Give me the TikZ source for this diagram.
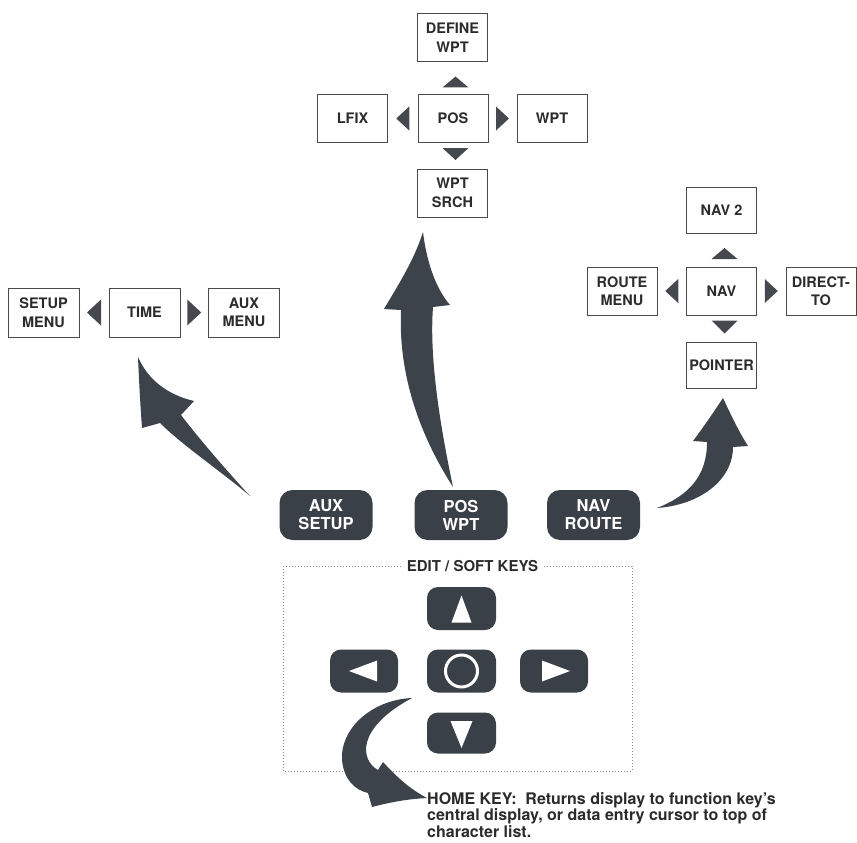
\documentclass[tikz,border=0pt]{standalone}
\usepackage{fontspec}
\setmainfont{TeX Gyre Heros}
\usetikzlibrary{calc}
\definecolor{keyc}{HTML}{3A4048}
\definecolor{arrc}{HTML}{3D434B}
\definecolor{boxc}{HTML}{4A4A4A}
\definecolor{txtc}{HTML}{2B2B2B}
\definecolor{tric}{HTML}{45494F}
\definecolor{framec}{HTML}{8A8A8A}
\tikzset{
  box/.style={draw=boxc, line width=1pt, minimum width=70pt, minimum height=48pt, inner sep=0pt,
    align=center, text=txtc, font=\fontsize{14.5}{18.5}\selectfont\bfseries},
  key/.style={fill=keyc, rounded corners=13pt, minimum width=93pt, minimum height=50pt, inner sep=0pt,
    text=white, align=center, font=\fontsize{16.5}{18}\selectfont\bfseries},
  skey/.style={fill=keyc, rounded corners=11pt, minimum width=68pt, minimum height=42pt, inner sep=0pt},
  tri/.style={fill=tric},
  wtri/.style={fill=white},
  bigarrow/.style={fill=arrc},
  frame/.style={draw=framec, line width=1pt, dotted},
}
\begin{document}
\begin{tikzpicture}[x=1pt,y=-1pt]
\useasboundingbox (0,0) rectangle (857,843);

% ---- POS cluster
\node[box] (define) at (452.5,37.5) {DEFINE\\WPT};
\node[box] (pos) at (453,118.5) {POS};
\node[box] (lfix) at (352.5,118.5) {LFIX};
\node[box] (wpt) at (552,118.5) {WPT};
\node[box] (srch) at (452.5,193) {WPT\\SRCH};
\fill[tri] (455.5,82.5) ++(-13,5) -- ++(26,0) -- ++(-13,-11) -- cycle;
\fill[tri] (455.5,154) ++(-13,-6) -- ++(26,0) -- ++(-13,12) -- cycle;
\fill[tri] ($(lfix.east)!.5!(pos.west)$) ++(6.5,-12) -- ++(0,24) -- ++(-13,-12) -- cycle;
\fill[tri] ($(pos.east)!.5!(wpt.west)$) ++(-6.5,-12) -- ++(0,24) -- ++(13,-12) -- cycle;

% ---- NAV cluster
\node[box, minimum height=46pt] (nav2) at (721.5,210) {NAV 2};
\node[box] (nav) at (721.5,291) {NAV};
\node[box] (route) at (622,291) {ROUTE\\MENU};
\node[box] (direct) at (821,291) {DIRECT-\\TO};
\node[box, minimum height=46pt] (pointer) at (721.5,365) {POINTER};
\fill[tri] (724.5,253.5) ++(-13,5.5) -- ++(26,0) -- ++(-13,-11) -- cycle;
\fill[tri] (724.5,327) ++(-13,-6.5) -- ++(26,0) -- ++(-13,13) -- cycle;
\fill[tri] ($(route.east)!.5!(nav.west)$) ++(6.5,-12) -- ++(0,24) -- ++(-13,-12) -- cycle;
\fill[tri] ($(nav.east)!.5!(direct.west)$) ++(-6.5,-12) -- ++(0,24) -- ++(13,-12) -- cycle;

% ---- TIME cluster
\node[box, minimum width=71pt, minimum height=49pt] (setup) at (43.5,312.5) {SETUP\\MENU};
\node[box, minimum width=71pt, minimum height=49pt] (time) at (144.5,312.5) {TIME};
\node[box, minimum width=71pt, minimum height=49pt] (auxm) at (244,312.5) {AUX\\MENU};
\fill[tri] ($(setup.east)!.5!(time.west)$) ++(7,-13) -- ++(0,26) -- ++(-14,-13) -- cycle;
\fill[tri] ($(time.east)!.5!(auxm.west)$) ++(-7,-13) -- ++(0,26) -- ++(14,-13) -- cycle;

% ---- function keys
\node[key] (auxkey) at (326,515) {AUX\\SETUP};
\node[key] (poskey) at (461,515) {POS\\WPT};
\node[key] (navkey) at (593.5,515) {NAV\\ROUTE};

% ---- edit / soft keys frame
\draw[frame] (283,566) rectangle (632,771);
\node[fill=white, inner xsep=6pt, inner ysep=2pt, text=txtc, font=\fontsize{15}{18}\selectfont\bfseries] (softlbl) at (472.5,566) {EDIT / SOFT KEYS};

\node[skey, minimum width=69pt, minimum height=43pt] (kup) at (461.5,608.5) {};
\node[skey, minimum height=43pt] (kleft) at (364,671) {};
\node[skey, minimum width=69pt, minimum height=43pt] (khome) at (461.5,671) {};
\node[skey, minimum height=43pt] (kright) at (554,671) {};
\node[skey, minimum width=69pt, minimum height=41pt] (kdown) at (461.5,733) {};
\fill[wtri] (kup.center) ++(-10,14) -- ++(20,0) -- ++(-10,-27) -- cycle;
\fill[wtri] (kdown.center) ++(-11,-12) -- ++(22,0) -- ++(-11,27) -- cycle;
\fill[wtri] (kleft.center) ++(13,-10.5) -- ++(0,21) -- ++(-28,-10.5) -- cycle;
\fill[wtri] (kright.center) ++(-12,-10.5) -- ++(0,21) -- ++(28,-10.5) -- cycle;
\draw[white, line width=3pt] (khome.center) circle (16pt);

% ---- big curved arrows
\fill[bigarrow] (250,496) .. controls (222,472) and (182,445) .. (160,423) -- (142,428)
  .. controls (140,400) and (139,380) .. (138,357)
  .. controls (148,380) and (168,395) .. (194,401) -- (181,415)
  .. controls (200,440) and (228,472) .. (250,496) -- cycle;

\fill[bigarrow] (453,487) .. controls (423,440) and (398,380) .. (401,310) -- (384,309)
  .. controls (400,282) and (414,260) .. (423,232)
  .. controls (427,265) and (437,290) .. (450,305) -- (433,307)
  .. controls (429,360) and (441,430) .. (453,487) -- cycle;

\fill[bigarrow] (657,508) .. controls (690,495) and (707,475) .. (707,442) -- (693,441)
  .. controls (705,425) and (715,410) .. (723,398)
  .. controls (731,415) and (739,432) .. (748,446) -- (733,447)
  .. controls (733,480) and (700,505) .. (657,508) -- cycle;

\fill[bigarrow] (412,698) .. controls (370,700) and (340,730) .. (342,760)
  .. controls (344,780) and (355,790) .. (368,793) -- (372,807)
  .. controls (395,801) and (410,799) .. (427,798)
  .. controls (408,788) and (395,775) .. (383,762) -- (378,770)
  .. controls (360,760) and (356,728) .. (412,698) -- cycle;

% ---- home key note
\node[anchor=north west, align=left, inner sep=0pt, text=txtc, font=\fontsize{16}{16.5}\selectfont\bfseries] (homenote) at (427,792)
  {HOME KEY:\ \ Returns display to function key's\\central display, or data entry cursor to top of\\character list.};
\end{tikzpicture}
\end{document}
